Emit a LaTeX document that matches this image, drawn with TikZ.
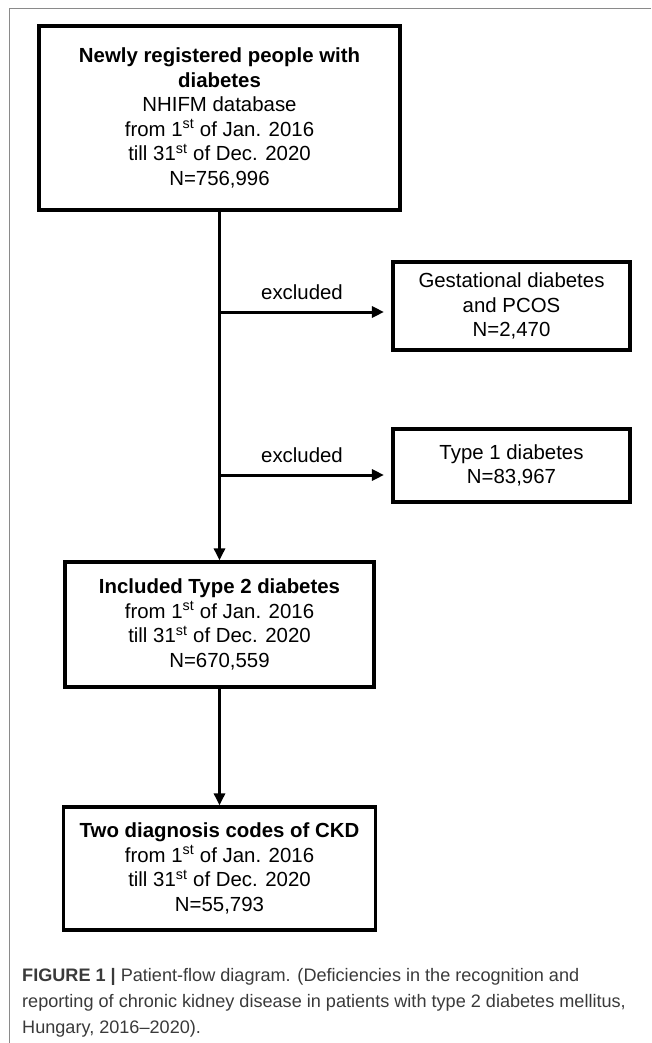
\documentclass[tikz,border=0pt]{standalone}
\usepackage{fontspec}
\setmainfont{Liberation Sans}
\usetikzlibrary{positioning,arrows.meta}
\definecolor{framegray}{HTML}{8A8A8A}
\definecolor{captiongray}{HTML}{3A3A3A}
\newcommand{\flowfont}{\fontsize{20.4pt}{24.6pt}\selectfont}
\newcommand{\capfont}{\fontsize{18.1pt}{26pt}\selectfont}

\begin{document}
\begin{tikzpicture}[x=1pt, y=-1pt, >={Triangle[length=12pt,width=11pt]},
    flowbox/.style={draw, line width=3.3pt, align=center, inner sep=0pt, font=\flowfont},
    flowarrow/.style={line width=3pt, ->},
    exlabel/.style={above=11pt, inner sep=0pt, font=\flowfont}]
  \useasboundingbox (0,0) rectangle (651,1043);
  \draw[framegray, line width=1pt] (651,9) -- (9,9) -- (9,1043);

  % main flow
  \node[flowbox, minimum width=361pt, minimum height=184pt] (reg) at (219.5,118)
    {\textbf{Newly registered people with}\\ \textbf{diabetes}\\ NHIFM database\\
     from 1\textsuperscript{st} of Jan. 2016\\ till 31\textsuperscript{st} of Dec. 2020\\ N=756,996};
  \node[flowbox, minimum width=309pt, minimum height=125pt, below=348.7pt of reg] (incl)
    {\textbf{Included Type 2 diabetes}\\ from 1\textsuperscript{st} of Jan. 2016\\
     till 31\textsuperscript{st} of Dec. 2020\\ N=670,559};
  \node[flowbox, minimum width=312pt, minimum height=123pt, below=116.7pt of incl] (ckd)
    {\textbf{Two diagnosis codes of CKD}\\ from 1\textsuperscript{st} of Jan. 2016\\
     till 31\textsuperscript{st} of Dec. 2020\\ N=55,793};

  % exclusions
  \node[flowbox, minimum width=237pt, minimum height=88pt] (gest) at (511.5,306)
    {Gestational diabetes\\ and PCOS\\ N=2,470};
  \node[flowbox, minimum width=237pt, minimum height=73pt] (type1) at (511.5,465.5)
    {Type 1 diabetes\\ N=83,967};

  \coordinate (j1) at (219.5,312);
  \coordinate (j2) at (219.5,475);

  \draw[flowarrow] (reg) -- (incl);
  \draw[flowarrow] (incl) -- (ckd);
  \draw[flowarrow, shorten >=7.4pt] (j1) -- node[exlabel, pos=0.48] {excluded} (j1 -| gest.west);
  \draw[flowarrow, shorten >=7.4pt] (j2) -- node[exlabel, pos=0.48] {excluded} (j2 -| type1.west);

  % caption
  \node[anchor=north west, inner sep=0pt, align=left, font=\capfont, text=captiongray] (cap) at (22,968)
    {\textbf{FIGURE 1 |} Patient-flow diagram. (Deficiencies in the recognition and\\
     reporting of chronic kidney disease in patients with type 2 diabetes mellitus,\\
     Hungary, 2016--2020).};
\end{tikzpicture}
\end{document}
